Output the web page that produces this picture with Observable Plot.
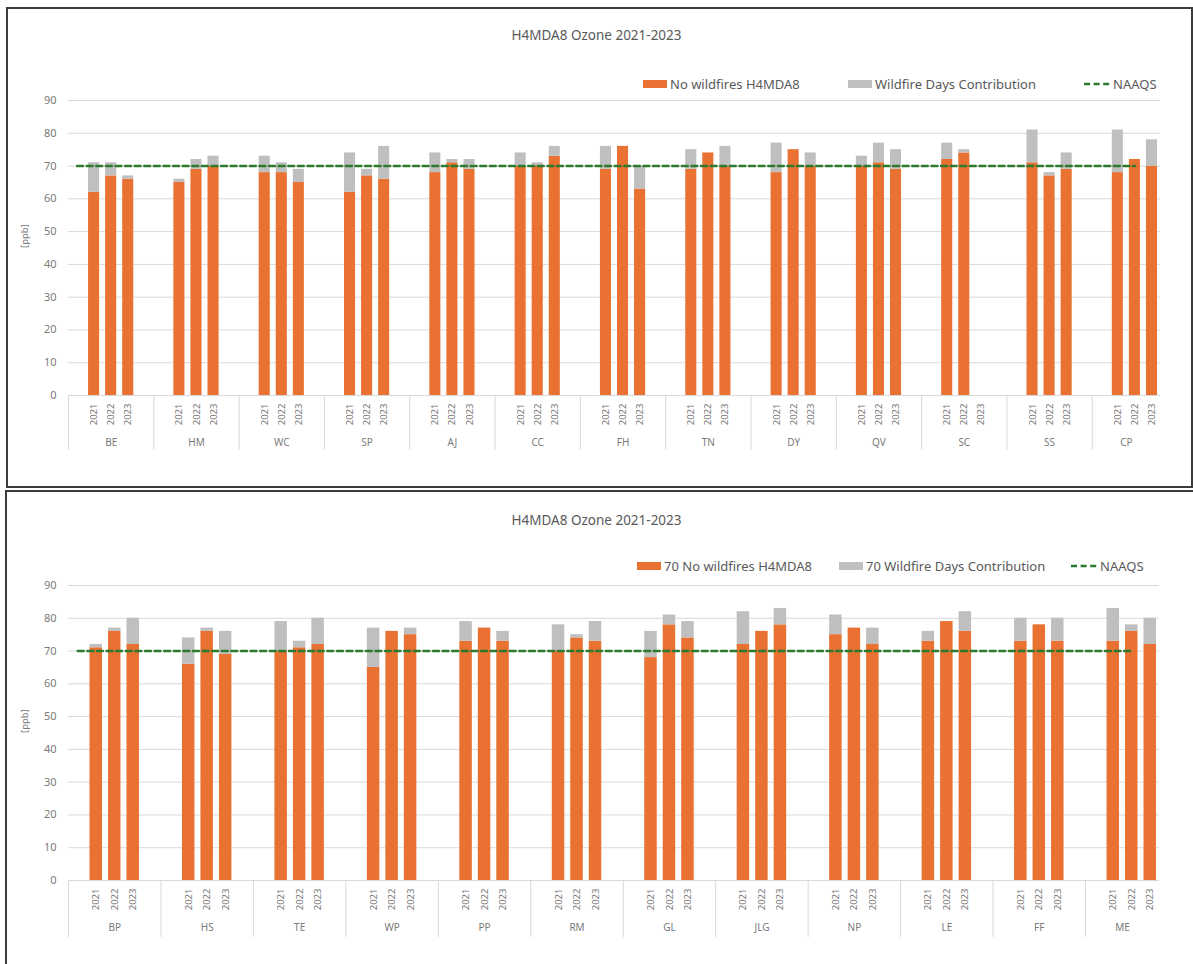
<!DOCTYPE html>
<html>
<head>
<meta charset="utf-8">
<script src="https://cdn.jsdelivr.net/npm/d3@7"></script>
<script src="https://cdn.jsdelivr.net/npm/@observablehq/plot@0.6"></script>
<style>
  html, body { margin: 0; padding: 0; background: #fff; }
  body { width: 1193px; height: 964px; overflow: hidden; position: relative; font-family: "Noto Sans", sans-serif; }
  .panel { position: absolute; border: 2px solid #3c3c3c; box-sizing: border-box; }
  .title { position: absolute; left: 0; width: 1193px; text-align: center; font-size: 13.5px; color: #595959; line-height: 1; }
  .lg { position: absolute; display: flex; align-items: center; font-size: 13px; color: #595959; white-space: nowrap; line-height: 1; }
  .sw { width: 24px; height: 8px; margin-right: 3px; }
  .chart { position: absolute; left: 0; }
</style>
</head>
<body>
<div class="panel" style="left:6px;top:7px;width:1187px;height:481px;"></div>
<div class="panel" style="left:5px;top:490px;width:1200px;height:500px;"></div>
<div id="root"></div>
<script>
// ---------- data ----------
const years = ["2021", "2022", "2023"];
const NAAQS = 70;

const sitesTop = ["BE", "HM", "WC", "SP", "AJ", "CC", "FH", "TN", "DY", "QV", "SC", "SS", "CP"];
const noWildfireTop = [
  [62, 67, 66], [65, 69, 70], [68, 68, 65], [62, 67, 66], [68, 71, 69], [70, 70, 73], [69, 76, 63],
  [69, 74, 70], [68, 75, 70], [70, 71, 69], [72, 74, null], [71, 67, 69], [68, 72, 70]
];
const wildfireTop = [
  [9, 4, 1], [1, 3, 3], [5, 3, 4], [12, 2, 10], [6, 1, 3], [4, 1, 3], [7, 0, 7],
  [6, 0, 6], [9, 0, 4], [3, 6, 6], [5, 1, null], [10, 1, 5], [13, 0, 8]
];

const sitesBottom = ["BP", "HS", "TE", "WP", "PP", "RM", "GL", "JLG", "NP", "LE", "FF", "ME"];
const noWildfireBottom = [
  [71, 76, 72], [66, 76, 69], [70, 71, 72], [65, 76, 75], [73, 77, 73], [70, 74, 73],
  [68, 78, 74], [72, 76, 78], [75, 77, 72], [73, 79, 76], [73, 78, 73], [73, 76, 72]
];
const wildfireBottom = [
  [1, 1, 8], [8, 1, 7], [9, 2, 8], [12, 0, 2], [6, 0, 3], [8, 1, 6],
  [8, 3, 5], [10, 0, 5], [6, 0, 5], [3, 0, 6], [7, 0, 7], [10, 2, 8]
];

const yTicks = [0, 10, 20, 30, 40, 50, 60, 70, 80, 90];

const titleText = "H4MDA8 Ozone 2021-2023";
const legendTop = ["No wildfires H4MDA8", "Wildfire Days Contribution", "NAAQS"];
const legendBottom = ["70 No wildfires H4MDA8", "70 Wildfire Days Contribution", "NAAQS"];

// ---------- style ----------
const ORANGE = "#E97132";
const GREY = "#BFBFBF";
const GREEN = "#2b7a2e";
const TEXT = "#7a7a7a";

// Excel-like category slots: each site = [blank, 2021, 2022, 2023, blank]; last site has no trailing blank
function buildPanel(sites, base, wf) {
  const n = sites.length;
  const nSlots = 5 * n - 1;
  const rows = [];
  const yearTicks = [];
  const yearLabel = new Map();
  sites.forEach((s, g) => {
    years.forEach((yr, k) => {
      const slot = 5 * g + 1 + k;
      yearTicks.push(slot + 0.5);
      yearLabel.set(slot + 0.5, yr);
      if (base[g][k] == null) return;
      rows.push({site: s, year: yr, slot, base: base[g][k], wf: wf[g][k]});
    });
  });
  const groupCenters = sites.map((s, g) => 5 * g + (g === n - 1 ? 2 : 2.5));
  const groupLabel = new Map(groupCenters.map((c, g) => [c, sites[g]]));
  const separators = sites.map((s, g) => 5 * g);
  const naaqsPts = d3.range(0, nSlots - 1).map(i => ({x: i + 0.5, y: NAAQS}));
  return {nSlots, rows, yearTicks, yearLabel, groupCenters, groupLabel, separators, naaqsPts};
}

function makeChart(p, opts) {
  return Plot.plot({
    width: 1193,
    height: opts.height,
    marginLeft: 68,
    marginRight: opts.marginRight,
    marginTop: 10,
    marginBottom: opts.height - 10 - 295,
    x: {domain: [0, p.nSlots], label: null},
    y: {domain: [0, 90], label: null},
    style: {fontFamily: "Noto Sans, sans-serif", color: TEXT, background: "transparent", overflow: "visible"},
    marks: [
      Plot.gridY(yTicks, {stroke: "#d9d9d9", strokeOpacity: 1, strokeWidth: 1}),
      Plot.axisY(yTicks, {tickSize: 0, tickPadding: 12, fontSize: 11, label: null}),
      Plot.text(["[ppb]"], {frameAnchor: "left", dx: -44, rotate: -90, fontSize: 9.5, fill: TEXT}),
      Plot.axisX(p.separators, {tickSize: opts.sepLen, tickFormat: () => "", stroke: "#d9d9d9", strokeOpacity: 1, label: null}),
      Plot.axisX(p.yearTicks, {tickFormat: v => p.yearLabel.get(v), tickRotate: -90, tickSize: 0, tickPadding: 8, fontSize: 9.5, label: null}),
      Plot.axisX(p.groupCenters, {tickFormat: v => p.groupLabel.get(v), tickSize: 0, tickPadding: 43, fontSize: 10, label: null}),
      Plot.rect(p.rows, {x1: d => d.slot, x2: d => d.slot + 1, y1: d => 0, y2: d => d.base, fill: ORANGE, insetLeft: 3, insetRight: 3}),
      Plot.rect(p.rows.filter(d => d.wf > 0), {x1: d => d.slot, x2: d => d.slot + 1, y1: d => d.base, y2: d => d.base + d.wf, fill: GREY, insetLeft: 3, insetRight: 3}),
      Plot.line(p.naaqsPts, {x: "x", y: "y", stroke: GREEN, strokeWidth: 2.4, strokeDasharray: "6,3.6"})
    ]
  });
}

function addTitle(top) {
  const t = document.createElement("div");
  t.className = "title";
  t.style.top = top + "px";
  t.textContent = titleText;
  document.body.appendChild(t);
}

function addLegend(labels, lefts, centerY) {
  const kinds = ["orange", "grey", "dash"];
  labels.forEach((lab, i) => {
    const item = document.createElement("div");
    item.className = "lg";
    item.style.left = lefts[i] + "px";
    item.style.top = (centerY - 8) + "px";
    item.style.height = "16px";
    let sw;
    if (kinds[i] === "dash") {
      sw = document.createElementNS("http://www.w3.org/2000/svg", "svg");
      sw.setAttribute("width", "26"); sw.setAttribute("height", "8");
      sw.style.marginRight = "3px";
      const ln = document.createElementNS("http://www.w3.org/2000/svg", "line");
      ln.setAttribute("x1", "0"); ln.setAttribute("x2", "26"); ln.setAttribute("y1", "4"); ln.setAttribute("y2", "4");
      ln.setAttribute("stroke", GREEN); ln.setAttribute("stroke-width", "2.4"); ln.setAttribute("stroke-dasharray", "6,3.6");
      sw.appendChild(ln);
    } else {
      sw = document.createElement("div");
      sw.className = "sw";
      sw.style.background = kinds[i] === "orange" ? ORANGE : GREY;
    }
    item.appendChild(sw);
    const span = document.createElement("span");
    span.textContent = lab;
    item.appendChild(span);
    document.body.appendChild(item);
  });
}

// ---------- top panel ----------
const pTop = buildPanel(sitesTop, noWildfireTop, wildfireTop);
addTitle(29);
addLegend(legendTop, [643, 848, 1084], 84);
const cTop = makeChart(pTop, {height: 375, marginRight: 33, sepLen: 55});
cTop.classList.add("chart");
cTop.style.position = "absolute";
cTop.style.top = "90px";
cTop.style.left = "0px";
document.body.appendChild(cTop);

// ---------- bottom panel ----------
const pBot = buildPanel(sitesBottom, noWildfireBottom, wildfireBottom);
addTitle(514);
addLegend(legendBottom, [637, 839, 1071], 566);
const cBot = makeChart(pBot, {height: 369, marginRight: 34, sepLen: 57});
cBot.classList.add("chart");
cBot.style.position = "absolute";
cBot.style.top = "575px";
cBot.style.left = "0px";
document.body.appendChild(cBot);
</script>
</body>
</html>
